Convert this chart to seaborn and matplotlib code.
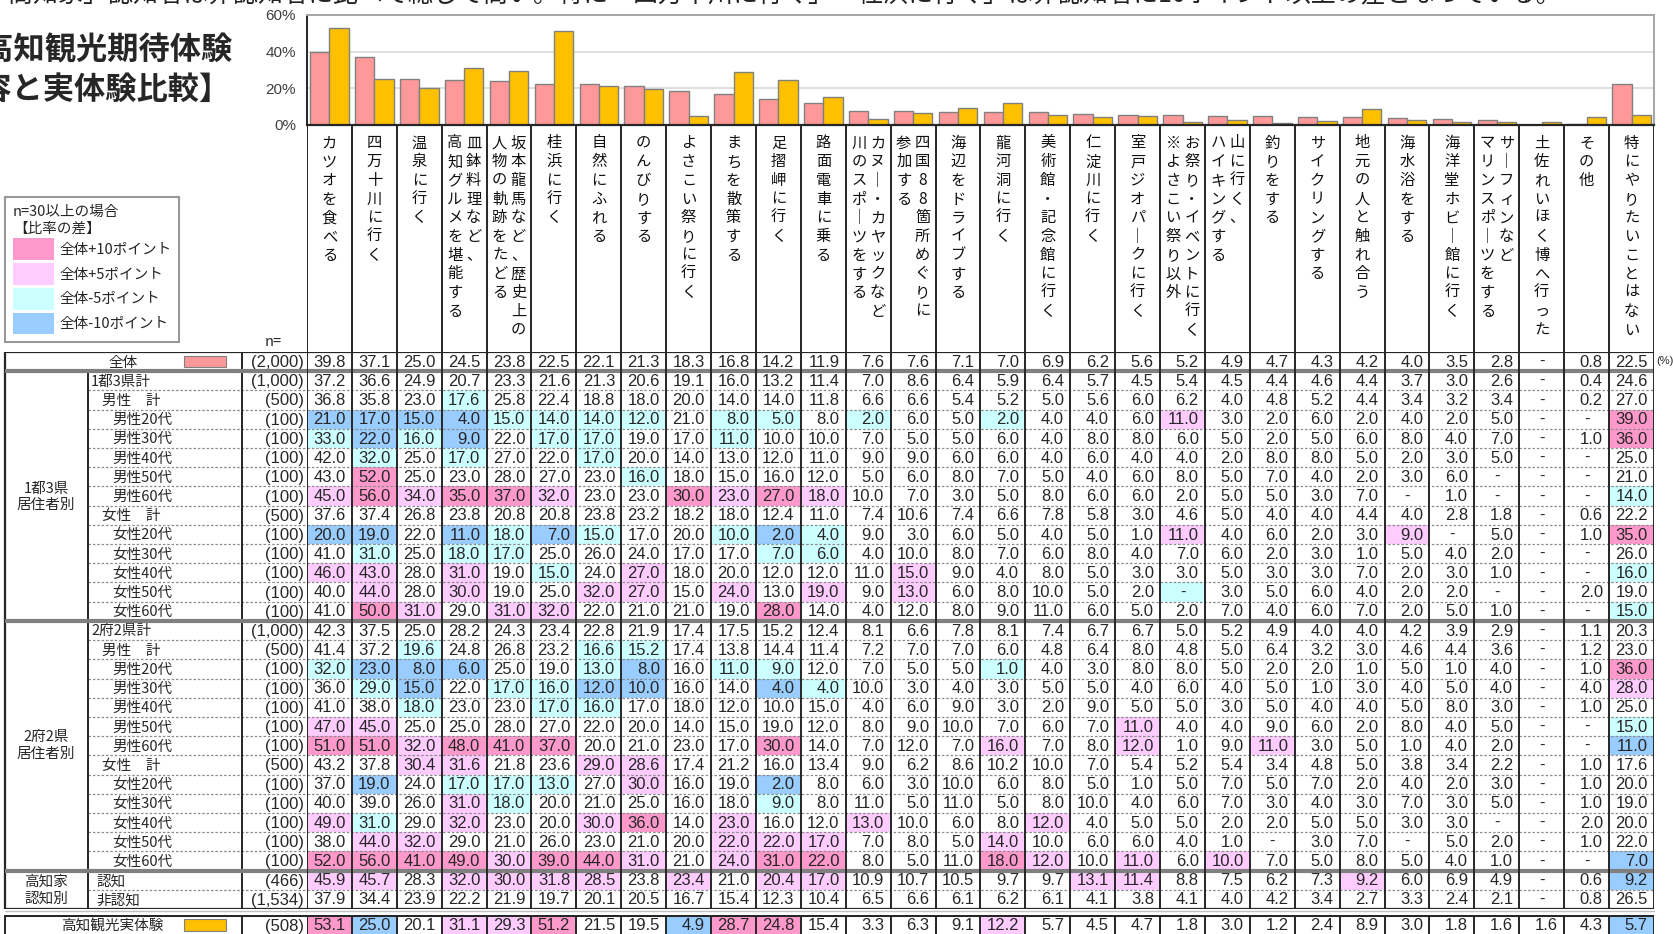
import numpy as np
import pandas as pd
import matplotlib
matplotlib.use("Agg")
import matplotlib.pyplot as plt
import seaborn as sns
from matplotlib.colors import ListedColormap
from matplotlib.patches import Rectangle, Patch

# ---------------- data ----------------
categories = [
    "カツオを食べる", "四万十川に行く", "温泉に行く", "皿鉢料理など、|高知グルメを堪能する",
    "坂本龍馬など、歴史上の|人物の軌跡をたどる", "桂浜に行く", "自然にふれる", "のんびりする",
    "よさこい祭りに行く", "まちを散策する", "足摺岬に行く", "路面電車に乗る",
    "カヌー・カヤックなど|川のスポーツをする", "四国88箇所めぐりに|参加する", "海辺をドライブする",
    "龍河洞に行く", "美術館・記念館に行く", "仁淀川に行く", "室戸ジオパークに行く",
    "お祭り・イベントに行く|※よさこい祭り以外", "山に行く、|ハイキングする", "釣りをする",
    "サイクリングする", "地元の人と触れ合う", "海水浴をする", "海洋堂ホビー館に行く",
    "サーフィンなど|マリンスポーツをする", "土佐れいほく博へ行った", "その他", "特にやりたいことはない",
]

zentai = [39.8, 37.1, 25.0, 24.5, 23.8, 22.5, 22.1, 21.3, 18.3, 16.8, 14.2, 11.9, 7.6, 7.6, 7.1,
          7.0, 6.9, 6.2, 5.6, 5.2, 4.9, 4.7, 4.3, 4.2, 4.0, 3.5, 2.8, None, 0.8, 22.5]

k_total = [37.2, 36.6, 24.9, 20.7, 23.3, 21.6, 21.3, 20.6, 19.1, 16.0, 13.2, 11.4, 7.0, 8.6, 6.4,
           5.9, 6.4, 5.7, 4.5, 5.4, 4.5, 4.4, 4.6, 4.4, 3.7, 3.0, 2.6, None, 0.4, 24.6]
k_male = [36.8, 35.8, 23.0, 17.6, 25.8, 22.4, 18.8, 18.0, 20.0, 14.0, 14.0, 11.8, 6.6, 6.6, 5.4,
          5.2, 5.0, 5.6, 6.0, 6.2, 4.0, 4.8, 5.2, 4.4, 3.4, 3.2, 3.4, None, 0.2, 27.0]
k_m20 = [21, 17, 15, 4, 15, 14, 14, 12, 21, 8, 5, 8, 2, 6, 5, 2, 4, 4, 6, 11, 3, 2, 6, 2, 4, 2, 5, None, None, 39]
k_m30 = [33, 22, 16, 9, 22, 17, 17, 19, 17, 11, 10, 10, 7, 5, 5, 6, 4, 8, 8, 6, 5, 2, 5, 6, 8, 4, 7, None, 1, 36]
k_m40 = [42, 32, 25, 17, 27, 22, 17, 20, 14, 13, 12, 11, 9, 9, 6, 6, 4, 6, 4, 4, 2, 8, 8, 5, 2, 3, 5, None, None, 25]
k_m50 = [43, 52, 25, 23, 28, 27, 23, 16, 18, 15, 16, 12, 5, 6, 8, 7, 5, 4, 6, 8, 5, 7, 4, 2, 3, 6, None, None, None, 21]
k_m60 = [45, 56, 34, 35, 37, 32, 23, 23, 30, 23, 27, 18, 10, 7, 3, 5, 8, 6, 6, 2, 5, 5, 3, 7, None, 1, None, None, None, 14]
k_female = [37.6, 37.4, 26.8, 23.8, 20.8, 20.8, 23.8, 23.2, 18.2, 18.0, 12.4, 11.0, 7.4, 10.6, 7.4,
            6.6, 7.8, 5.8, 3.0, 4.6, 5.0, 4.0, 4.0, 4.4, 4.0, 2.8, 1.8, None, 0.6, 22.2]
k_f20 = [20, 19, 22, 11, 18, 7, 15, 17, 20, 10, 2, 4, 9, 3, 6, 5, 4, 5, 1, 11, 4, 6, 2, 3, 9, None, 5, None, 1, 35]
k_f30 = [41, 31, 25, 18, 17, 25, 26, 24, 17, 17, 7, 6, 4, 10, 8, 7, 6, 8, 4, 7, 6, 2, 3, 1, 5, 4, 2, None, None, 26]
k_f40 = [46, 43, 28, 31, 19, 15, 24, 27, 18, 20, 12, 12, 11, 15, 9, 4, 8, 5, 3, 3, 5, 3, 3, 7, 2, 3, 1, None, None, 16]
k_f50 = [40, 44, 28, 30, 19, 25, 32, 27, 15, 24, 13, 19, 9, 13, 6, 8, 10, 5, 2, None, 3, 5, 6, 4, 2, 2, None, None, 2, 19]
k_f60 = [41, 50, 31, 29, 31, 32, 22, 21, 21, 19, 28, 14, 4, 12, 8, 9, 11, 6, 5, 2, 7, 4, 6, 7, 2, 5, 1, None, None, 15]

o_total = [42.3, 37.5, 25.0, 28.2, 24.3, 23.4, 22.8, 21.9, 17.4, 17.5, 15.2, 12.4, 8.1, 6.6, 7.8,
           8.1, 7.4, 6.7, 6.7, 5.0, 5.2, 4.9, 4.0, 4.0, 4.2, 3.9, 2.9, None, 1.1, 20.3]
o_male = [41.4, 37.2, 19.6, 24.8, 26.8, 23.2, 16.6, 15.2, 17.4, 13.8, 14.4, 11.4, 7.2, 7.0, 7.0,
          6.0, 4.8, 6.4, 8.0, 4.8, 5.0, 6.4, 3.2, 3.0, 4.6, 4.4, 3.6, None, 1.2, 23.0]
o_m20 = [32, 23, 8, 6, 25, 19, 13, 8, 16, 11, 9, 12, 7, 5, 5, 1, 4, 3, 8, 8, 5, 2, 2, 1, 5, 1, 4, None, 1, 36]
o_m30 = [36, 29, 15, 22, 17, 16, 12, 10, 16, 14, 4, 4, 10, 3, 4, 3, 5, 5, 4, 6, 4, 5, 1, 3, 4, 5, 4, None, 4, 28]
o_m40 = [41, 38, 18, 23, 23, 17, 16, 17, 18, 12, 10, 15, 4, 6, 9, 3, 2, 9, 5, 5, 3, 5, 4, 4, 5, 8, 3, None, 1, 25]
o_m50 = [47, 45, 25, 25, 28, 27, 22, 20, 14, 15, 19, 12, 8, 9, 10, 7, 6, 7, 11, 4, 4, 9, 6, 2, 8, 4, 5, None, None, 15]
o_m60 = [51, 51, 32, 48, 41, 37, 20, 21, 23, 17, 30, 14, 7, 12, 7, 16, 7, 8, 12, 1, 9, 11, 3, 5, 1, 4, 2, None, None, 11]
o_female = [43.2, 37.8, 30.4, 31.6, 21.8, 23.6, 29.0, 28.6, 17.4, 21.2, 16.0, 13.4, 9.0, 6.2, 8.6,
            10.2, 10.0, 7.0, 5.4, 5.2, 5.4, 3.4, 4.8, 5.0, 3.8, 3.4, 2.2, None, 1.0, 17.6]
o_f20 = [37, 19, 24, 17, 17, 13, 27, 30, 16, 19, 2, 8, 6, 3, 10, 6, 8, 5, 1, 5, 7, 5, 7, 2, 4, 2, 3, None, 1, 20]
o_f30 = [40, 39, 26, 31, 18, 20, 21, 25, 16, 18, 9, 8, 11, 5, 11, 5, 8, 10, 4, 6, 7, 3, 4, 3, 7, 3, 5, None, 1, 19]
o_f40 = [49, 31, 29, 32, 23, 20, 30, 36, 14, 23, 16, 12, 13, 10, 6, 8, 12, 4, 5, 5, 2, 2, 5, 5, 3, 3, None, None, 2, 20]
o_f50 = [38, 44, 32, 29, 21, 26, 23, 21, 20, 22, 22, 17, 7, 8, 5, 14, 10, 6, 6, 4, 1, None, 3, 7, None, 5, 2, None, 1, 22]
o_f60 = [52, 56, 41, 49, 30, 39, 44, 31, 21, 24, 31, 22, 8, 5, 11, 18, 12, 10, 11, 6, 10, 7, 5, 8, 5, 4, 1, None, None, 7]

ninchi = [45.9, 45.7, 28.3, 32.0, 30.0, 31.8, 28.5, 23.8, 23.4, 21.0, 20.4, 17.0, 10.9, 10.7, 10.5,
          9.7, 9.7, 13.1, 11.4, 8.8, 7.5, 6.2, 7.3, 9.2, 6.0, 6.9, 4.9, None, 0.6, 9.2]
hininchi = [37.9, 34.4, 23.9, 22.2, 21.9, 19.7, 20.1, 20.5, 16.7, 15.4, 12.3, 10.4, 6.5, 6.6, 6.1,
            6.2, 6.1, 4.1, 3.8, 4.1, 4.0, 4.2, 3.4, 2.7, 3.3, 2.4, 2.1, None, 0.8, 26.5]
jittaiken = [53.1, 25.0, 20.1, 31.1, 29.3, 51.2, 21.5, 19.5, 4.9, 28.7, 24.8, 15.4, 3.3, 6.3, 9.1,
             12.2, 5.7, 4.5, 4.7, 1.8, 3.0, 1.2, 2.4, 8.9, 3.0, 1.8, 1.6, 1.6, 4.3, 5.7]

row_labels = ["全体", "1都3県計", "男性　計", "男性20代", "男性30代", "男性40代", "男性50代", "男性60代",
              "女性　計", "女性20代", "女性30代", "女性40代", "女性50代", "女性60代",
              "2府2県計", "男性　計", "男性20代", "男性30代", "男性40代", "男性50代", "男性60代",
              "女性　計", "女性20代", "女性30代", "女性40代", "女性50代", "女性60代",
              "認知", "非認知"]
row_n = [2000, 1000, 500, 100, 100, 100, 100, 100, 500, 100, 100, 100, 100, 100,
         1000, 500, 100, 100, 100, 100, 100, 500, 100, 100, 100, 100, 100, 466, 1534]
exp_label = "高知観光実体験"
exp_n = 508
series_names = ["全体", "高知観光実体験"]
legend_labels = ["全体+10ポイント", "全体+5ポイント", "全体-5ポイント", "全体-10ポイント"]

table_rows = [zentai, k_total, k_male, k_m20, k_m30, k_m40, k_m50, k_m60, k_female, k_f20, k_f30,
              k_f40, k_f50, k_f60, o_total, o_male, o_m20, o_m30, o_m40, o_m50, o_m60, o_female,
              o_f20, o_f30, o_f40, o_f50, o_f60, ninchi, hininchi]

# ---------------- style ----------------
PINK_BAR = "#FF9999"
ORANGE_BAR = "#FFC000"
C_P10, C_P5, C_M5, C_M10 = "#FF99CC", "#FFCCFF", "#CCFFFF", "#99CCFF"
LINE = "#262626"

sns.set_theme(style="white")
CJK = ["Noto Sans CJK JP", "DejaVu Sans"]
NUM = ["Liberation Sans", "Noto Sans CJK JP", "DejaVu Sans"]
plt.rcParams["font.family"] = CJK

W, H = 1674, 934
fig = plt.figure(figsize=(W / 100, H / 100), dpi=100)


def add_ax(x0, y0, x1, y1):
    return fig.add_axes([x0 / W, 1 - y1 / H, (x1 - x0) / W, (y1 - y0) / H])


def level(v, base):
    d = round((0 if v is None else v) - (0 if base is None else base), 1)
    if d >= 10:
        return 2
    if d >= 5:
        return 1
    if d <= -10:
        return -2
    if d <= -5:
        return -1
    return 0


def fmt(v):
    return "-" if v is None else f"{v:.1f}"


TX0, TX1 = 307, 1654
ncol = len(categories)

# ---------------- bar chart ----------------
bar_ax = add_ax(TX0, 15, TX1, 125)
df_bar = pd.DataFrame({
    "category": categories * 2,
    "series": [series_names[0]] * ncol + [series_names[1]] * ncol,
    "value": [0 if v is None else v for v in zentai] + [0 if v is None else v for v in jittaiken],
})
sns.barplot(data=df_bar, x="category", y="value", hue="series", order=categories,
            hue_order=series_names, palette=[PINK_BAR, ORANGE_BAR], width=0.86,
            saturation=1, edgecolor="#808080", linewidth=1.0, legend=False, ax=bar_ax)
bar_ax.set_xlim(-0.5, ncol - 0.5)
bar_ax.set_ylim(0, 60)
bar_ax.set_yticks([0, 20, 40, 60])
bar_ax.set_yticklabels(["0%", "20%", "40%", "60%"], fontsize=11, family=NUM, color="#404040")
bar_ax.set_xticks([])
bar_ax.set_xlabel("")
bar_ax.set_ylabel("")
bar_ax.yaxis.grid(True, color="#d9d9d9", lw=1.2)
bar_ax.set_axisbelow(True)
bar_ax.tick_params(axis="y", length=0, pad=8)
for s, c, lw in [("left", LINE, 1.4), ("bottom", LINE, 1.6), ("top", "#a6a6a6", 1.4), ("right", "#a6a6a6", 1.4)]:
    bar_ax.spines[s].set_visible(True)
    bar_ax.spines[s].set_color(c)
    bar_ax.spines[s].set_linewidth(lw)

# ---------------- header with vertical labels ----------------
head_ax = add_ax(TX0, 125, TX1, 352)
head_ax.set_xlim(0, ncol)
head_ax.set_ylim(352, 125)
head_ax.axis("off")
head_ax.vlines(range(ncol + 1), 125, 352, color=LINE, lw=1.4)
VERT = {"ー": "｜"}
for j, lab in enumerate(categories):
    parts = lab.split("|")
    xs = [j + 0.5] if len(parts) == 1 else [j + 0.5 + 0.21, j + 0.5 - 0.21]
    for part, x in zip(parts, xs):
        for i, ch in enumerate(part):
            head_ax.text(x, 143 + i * 18.7, VERT.get(ch, ch), ha="center", va="center",
                         fontsize=11, color="#111111")

# ---------------- main table ----------------
nrow = len(table_rows)
levels = np.array([[0] * ncol] + [[level(v, b) for v, b in zip(r, zentai)] for r in table_rows[1:]])
cmap = ListedColormap([C_M10, C_M5, "#FFFFFF", C_P5, C_P10])
tab_ax = add_ax(TX0, 352, TX1, 909)
sns.heatmap(levels, cmap=cmap, vmin=-2.5, vmax=2.5, cbar=False, xticklabels=False,
            yticklabels=False, ax=tab_ax)
tab_ax.tick_params(length=0)
for i, r in enumerate(table_rows):
    for j, v in enumerate(r):
        if v is None:
            tab_ax.text(j + 0.5, i + 0.5, "-", ha="center", va="center", fontsize=12, family=NUM)
        else:
            tab_ax.text(j + 0.86, i + 0.53, fmt(v), ha="right", va="center", fontsize=12, family=NUM)
sections = [1, 14, 27]
for y in range(1, nrow):
    if y not in sections:
        tab_ax.hlines(y, 0, ncol, color="#8c8c8c", lw=0.9, linestyles=(0, (2, 1.5)), zorder=3)
tab_ax.hlines(sections, 0, ncol, color="#808080", lw=3, zorder=4)
tab_ax.hlines([0, nrow], 0, ncol, color=LINE, lw=1.6, zorder=4)
tab_ax.vlines(range(ncol + 1), 0, nrow, color=LINE, lw=1.4, zorder=5)

# left labels for main table
lab_ax = add_ax(0, 352, TX0, 909)
lab_ax.set_xlim(0, TX0)
lab_ax.set_ylim(nrow, 0)
lab_ax.axis("off")
for y in range(1, nrow):
    if y not in sections:
        lab_ax.hlines(y, 88, TX0, color="#8c8c8c", lw=0.9, linestyles=(0, (2, 1.5)))
lab_ax.hlines(sections, 5, TX0, color="#808080", lw=3, zorder=4)
lab_ax.hlines([0, nrow], 5, TX0, color=LINE, lw=1.6)
lab_ax.vlines(5, 0, nrow, color=LINE, lw=1.6)
lab_ax.vlines(88, 1, nrow, color=LINE, lw=1.4)
lab_ax.vlines(242, 0, nrow, color=LINE, lw=1.4)
for i, (lab, n) in enumerate(zip(row_labels, row_n)):
    y = i + 0.55
    if i == 0:
        lab_ax.text(123, y, lab, ha="center", va="center", fontsize=10.5)
        lab_ax.add_patch(Rectangle((184, 0.22), 42, 0.56, facecolor=PINK_BAR, edgecolor="#808080", lw=0.8))
    elif lab.endswith("計") and ("都" in lab or "府" in lab):
        lab_ax.text(91, y, lab, ha="left", va="center", fontsize=10.5)
    elif "計" in lab:
        lab_ax.text(102, y, lab, ha="left", va="center", fontsize=10.5)
    elif "代" in lab:
        lab_ax.text(112, y, lab, ha="left", va="center", fontsize=10.5)
    else:
        lab_ax.text(96, y, lab, ha="left", va="center", fontsize=10.5)
    lab_ax.text(304, y, f"({n:,})", ha="right", va="center", fontsize=12, family=NUM)
lab_ax.text(46, 7.55, "1都3県\n居住者別", ha="center", va="center", fontsize=10.5, linespacing=1.25)
lab_ax.text(46, 20.5, "2府2県\n居住者別", ha="center", va="center", fontsize=10.5, linespacing=1.25)
lab_ax.text(46, 28.0, "高知家\n認知別", ha="center", va="center", fontsize=10.5, linespacing=1.25)

# ---------------- experience row ----------------
exp_levels = np.array([[level(v, b) for v, b in zip(jittaiken, zentai)]])
exp_ax = add_ax(TX0, 915, TX1, 935)
sns.heatmap(exp_levels, cmap=cmap, vmin=-2.5, vmax=2.5, cbar=False, xticklabels=False,
            yticklabels=False, ax=exp_ax)
exp_ax.tick_params(length=0)
for j, v in enumerate(jittaiken):
    exp_ax.text(j + 0.86, 0.55, fmt(v), ha="right", va="center", fontsize=12, family=NUM)
exp_ax.hlines(0, 0, ncol, color=LINE, lw=2.2, zorder=4)
exp_ax.vlines(range(ncol + 1), 0, 1, color=LINE, lw=1.4, zorder=5)

exp_lab = add_ax(0, 915, TX0, 935)
exp_lab.set_xlim(0, TX0)
exp_lab.set_ylim(1, 0)
exp_lab.axis("off")
exp_lab.hlines(0, 5, TX0, color=LINE, lw=2.2)
exp_lab.vlines([5, 242], 0, 1, color=LINE, lw=1.4)
exp_lab.text(112, 0.55, exp_label, ha="center", va="center", fontsize=10.5)
exp_lab.add_patch(Rectangle((184, 0.22), 42, 0.56, facecolor=ORANGE_BAR, edgecolor="#808080", lw=0.8))
exp_lab.text(304, 0.55, f"({exp_n:,})", ha="right", va="center", fontsize=12, family=NUM)

fig.add_artist(plt.Line2D([5 / W, TX1 / W], [1 - 911 / H, 1 - 911 / H], color="#bfbfbf", lw=1))

# ---------------- legend ----------------
handles = [Patch(facecolor=c, edgecolor="none", label=l)
           for c, l in zip([C_P10, C_P5, C_M5, C_M10], legend_labels)]
leg = fig.legend(handles=handles, title="n=30以上の場合\n【比率の差】", loc="upper left",
                 bbox_to_anchor=(5 / W, 1 - 197 / H), frameon=True, fancybox=False,
                 edgecolor="#7f7f7f", fontsize=10.5, title_fontsize=10.5, handlelength=2.8,
                 handleheight=1.9, labelspacing=0.22, borderpad=0.55, handletextpad=0.35,
                 alignment="left", borderaxespad=0)
leg.get_frame().set_linewidth(1.5)

# ---------------- texts ----------------
fig.text(273 / W, 1 - 342 / H, "n=", ha="center", va="center", fontsize=10.5)
fig.text(1656 / W, 1 - 361 / H, "(%)", ha="left", va="center", fontsize=8, family=NUM)
fig.text(233 / W, 1 - 50 / H, "【高知観光期待体験", ha="right", va="center", fontsize=22.5, fontweight="bold")
fig.text(231 / W, 1 - 91 / H, "内容と実体験比較】", ha="right", va="center", fontsize=22.5, fontweight="bold")
fig.text(-16 / W, 1 + 5 / H,
         "「高知家」認知者は非認知者に比べて総じて高い。特に「四万十川に行く」「桂浜に行く」は非認知者に10ポイント以上の差となっている。",
         ha="left", va="center", fontsize=18, color="#222222")

fig.savefig("out.png", dpi=100)
